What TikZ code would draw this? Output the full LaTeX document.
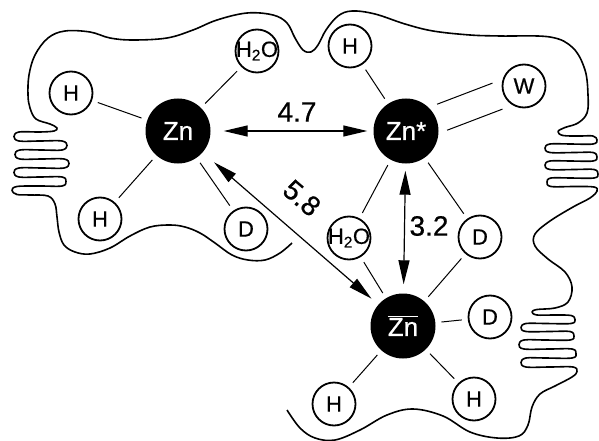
\documentclass[tikz,border=0pt]{standalone}
\usepackage{fontspec}
\setmainfont{Liberation Sans}[FakeBold=0.6]
\usetikzlibrary{arrows.meta}

\newcommand{\hto}{\makebox[0pt]{H\textsubscript{2}O}}

\tikzset{
  metal/.style={circle, fill=black, text=white, minimum size=65pt, inner sep=0pt,
    font=\fontsize{26}{28}\selectfont},
  lig/.style={circle, draw, line width=1.8pt, minimum size=43pt, inner sep=0pt,
    font=\fontsize{22}{24}\selectfont},
  bond/.style={line width=1pt, shorten <=6pt, shorten >=6pt},
  dist/.style={{Triangle[length=24pt,width=11pt]}-{Triangle[length=24pt,width=11pt]},
    line width=1.2pt},
  distlabel/.style={font=\fontsize{28}{30}\selectfont, inner sep=0pt},
  outline/.style={line width=1.6pt, line join=round}
}

\begin{document}
\begin{tikzpicture}[x=1pt,y=-1pt]
\useasboundingbox (0,0) rectangle (599,441);

% zinc ions
\node[metal] (zn1) at (178,131) {Zn};
\node[metal] (zns) at (406,131) {Zn*};
\node[metal] (znb) at (403,326) {$\overline{\mbox{Zn}}$};

% ligands
\node[lig] (h1) at (71,93) {H};
\node[lig] (wa1) at (257,51) {\hto};
\node[lig] (h2) at (100,219) {H};
\node[lig] (d1) at (246,229) {D};
\node[lig] (h3) at (350,46) {H};
\node[lig] (w) at (524,86) {W};
\node[lig] (wa2) at (349,238) {\hto};
\node[lig] (d2) at (480,237) {D};
\node[lig] (d3) at (490,317) {D};
\node[lig] (h4) at (334,404) {H};
\node[lig] (h5) at (474,399) {H};

% bonds
\draw[bond] (zn1) -- (h1);
\draw[bond] (zn1) -- (wa1);
\draw[bond] (zn1) -- (h2);
\draw[bond] (zn1) -- (d1);
\draw[bond] (zns) -- (h3);
\draw[bond, transform canvas={shift={(-5,-13)}}] (zns) -- (w);
\draw[bond, transform canvas={shift={(5,13)}}] (zns) -- (w);
\draw[bond] (zns) -- (wa2);
\draw[bond] (zns) -- (d2);
\draw[bond] (znb) -- (wa2);
\draw[bond] (znb) -- (d2);
\draw[bond] (znb) -- (d3);
\draw[bond] (znb) -- (h4);
\draw[bond] (znb) -- (h5);

% distances
\draw[dist, shorten <=13pt, shorten >=6pt] (zn1) -- (zns);
\draw[dist, shorten <=15pt, shorten >=9pt] (zn1) -- (znb);
\draw[dist, shorten <=7pt, shorten >=9pt] (zns) -- (znb);
\node[distlabel] (l47) at (297,112) {4.7};
\node[distlabel, rotate=-41] (l58) at (302,198) {5.8};
\node[distlabel] (l32) at (429,226) {3.2};

% protein outline
\draw[outline] plot[smooth, tension=0.6] coordinates {
  (292,243) (280,253) (265,260) (248,260) (232,255) (215,243) (200,233)
  (185,227) (170,225) (150,227) (130,236) (110,248) (90,254) (75,252)
  (64,245) (59,232) (57,217) (55,204) (48,196)
  (30,195) (17,194.5) (12,190.5) (17,186.5) (40,186) (62,186) (66,181.5)
  (62,177) (40,177) (19,177) (14,172.5) (19,168) (42,168) (64,168) (69,163.5)
  (64,159) (42,159) (20,159) (15,154.5) (20,150) (42,150) (62,150) (67,145.5)
  (62,141) (40,141) (19,141) (14,136.5) (19,132) (40,132) (54,131) (57,128)
  (50,124) (36,119) (30,108) (28,95) (29,75) (35,55) (48,38) (65,31) (90,32)
  (110,38) (133,40) (167,38) (193,30) (217,20) (247,13) (273,15) (287,23)
  (295,38) (303,50) (311,52) (318,45) (326,30) (338,16) (352,11) (375,14)
  (405,24) (433,31) (470,35) (500,36) (550,37) (573,48) (585,70) (588,95)
  (587,113) (578,123) (565,127.5)
  (558,131.5) (563,135.5) (580,136) (593,136) (597,140) (593,144) (570,144)
  (550,144) (545,148) (550,152.5) (575,152.5) (593,152.5) (597,157) (593,161)
  (570,161) (550,161) (545,165) (550,169.5) (575,169.5) (594,169.5) (598,174)
  (594,178) (570,178) (551,178) (547,182) (551,186.5) (575,186.5) (594,187)
  (597,191) (590,198) (573,207) (550,221) (535,234) (535,246) (548,259)
  (565,272) (572,287) (568,302) (555,308) (537,309.5)
  (532,312) (537,315) (555,315) (571,315.5) (575,319.5) (571,323.5) (545,323.5)
  (526,323.5) (521,327.5) (526,331.5) (550,331.5) (570,331.5) (574,336)
  (570,340) (545,340) (524,340) (519,344.5) (524,349) (550,349) (572,349)
  (576,353.5) (572,358) (545,358) (526,358) (521,362.5) (526,367) (550,367)
  (573,367) (577,371.5) (572,377) (555,386) (540,394) (532,407) (528,425)
  (519,436) (497,438) (470,432) (443,416) (413,409) (387,415) (360,430)
  (335,440) (315,438) (300,428) (287,410)};

\end{tikzpicture}
\end{document}
